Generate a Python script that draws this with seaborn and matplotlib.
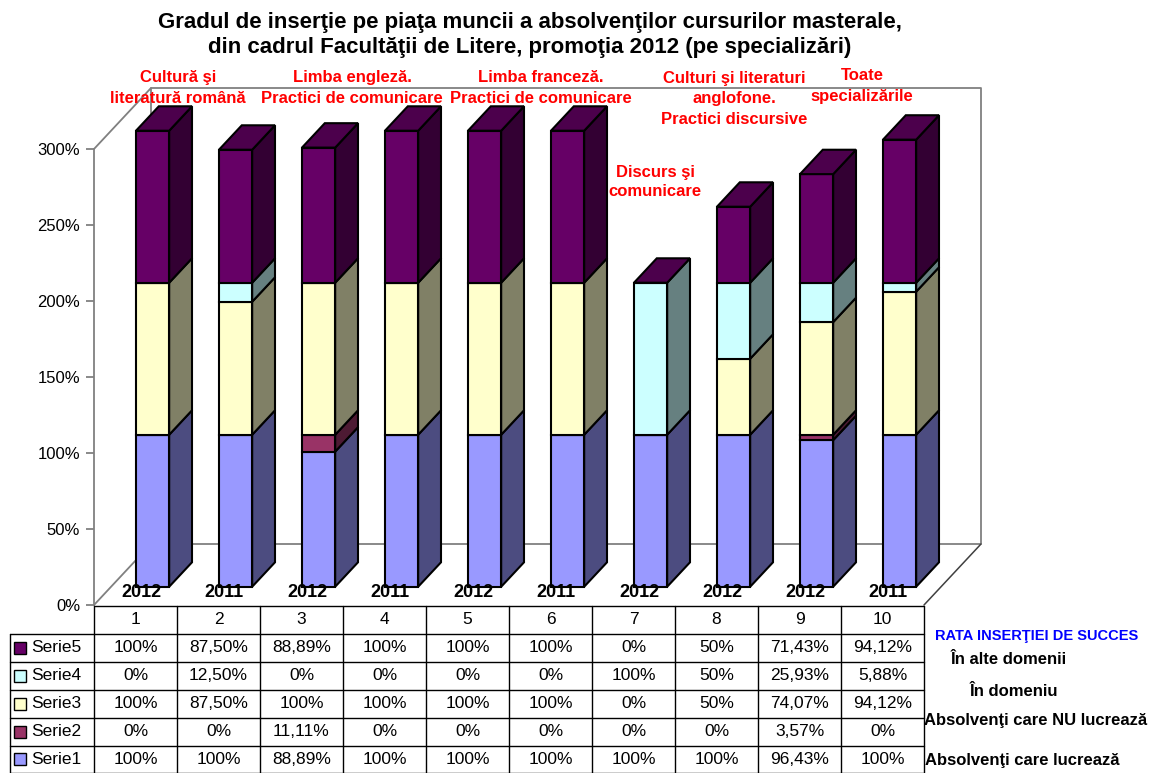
import numpy as np
import matplotlib.pyplot as plt
from matplotlib.patches import Rectangle
import seaborn as sns

# data (percent)
categories = [1, 2, 3, 4, 5, 6, 7, 8, 9, 10]
years = ["2012", "2011", "2012", "2011", "2012", "2011", "2012", "2012", "2012", "2011"]
serie1 = [100, 100, 88.89, 100, 100, 100, 100, 100, 96.43, 100]
serie2 = [0, 0, 11.11, 0, 0, 0, 0, 0, 3.57, 0]
serie3 = [100, 87.5, 100, 100, 100, 100, 0, 50, 74.07, 94.12]
serie4 = [0, 12.5, 0, 0, 0, 0, 100, 50, 25.93, 5.88]
serie5 = [100, 87.5, 88.89, 100, 100, 100, 0, 50, 71.43, 94.12]
series_names = ["Serie1", "Serie2", "Serie3", "Serie4", "Serie5"]
yticks = [0, 50, 100, 150, 200, 250, 300]

title = ("Gradul de inserţie pe piaţa muncii a absolvenţilor cursurilor masterale,\n"
         "din cadrul Facultăţii de Litere, promoţia 2012 (pe specializări)")
programmes = ["Cultură şi\nliteratură română",
              "Limba engleză.\nPractici de comunicare",
              "Limba franceză.\nPractici de comunicare",
              "Culturi şi literaturi\nanglofone.\nPractici discursive",
              "Toate\nspecializările",
              "Discurs şi\ncomunicare"]
legend_title = "RATA INSERŢIEI DE SUCCES"
legend_notes = ["În alte domenii", "În domeniu",
                "Absolvenţi care NU lucrează", "Absolvenţi care lucrează"]

front_colors = ["#9999FF", "#993366", "#FFFFCC", "#CCFFFF", "#660066"]
side_colors = ["#4C4C80", "#4D1A33", "#808066", "#668080", "#330033"]
top_color = "#4C004C"

sns.set_style("white")
plt.rcParams["font.family"] = ["Liberation Sans", "DejaVu Sans"]
plt.rcParams["text.color"] = "black"
plt.rcParams["ytick.labelcolor"] = "black"

W, H = 1150, 773
PX_X, PX_Y = 83, 1.52          # pixels per category / per percent
DX, DY = 57 / PX_X, 61 / PX_Y  # depth of the 3d box in data units
front_dx, front_dy = 0.3 * DX, 0.3 * DY
bar_dx, bar_dy = 0.4 * DX, 0.4 * DY
bw = 0.4

fig = plt.figure(figsize=(W / 100, H / 100), dpi=100)
ax = fig.add_axes([94 / W, (H - 605) / H, (10 + DX) * PX_X / W, (300 + DY) * PX_Y / H])

# walls and floor
wall = dict(color="#808080", lw=1.3, zorder=1, clip_on=False)
x0, x1 = 0.5, 10.5
ax.plot([x0, x0 + DX, x0 + DX], [300, 300 + DY, DY], **wall)
ax.plot([x0 + DX, x1 + DX, x1 + DX, x0 + DX], [300 + DY, 300 + DY, DY, DY], **wall)
ax.plot([x0, x0 + DX], [0, DY], **wall)
ax.plot([x1, x1 + DX], [0, DY], color="#404040", lw=1.1, zorder=1, clip_on=False)

# stacked 3d columns
xf = np.array(categories, dtype=float) + front_dx
bottom = np.full(len(categories), front_dy)
for vals, fc, sc in zip([serie1, serie2, serie3, serie4, serie5], front_colors, side_colors):
    vals = np.array(vals, dtype=float)
    sns.barplot(x=xf, y=vals, bottom=bottom, native_scale=True, orient="x", width=bw,
                color=fc, saturation=1, edgecolor="black", linewidth=1.5,
                errorbar=None, ax=ax, zorder=3)
    for xi, b, v in zip(xf, bottom, vals):
        if v > 0:
            xr = xi + bw / 2
            ax.fill([xr, xr + bar_dx, xr + bar_dx, xr], [b, b + bar_dy, b + v + bar_dy, b + v],
                    facecolor=sc, edgecolor="black", lw=1.5, zorder=3)
    bottom = bottom + vals

for xi, t in zip(xf, bottom):
    xl, xr = xi - bw / 2, xi + bw / 2
    ax.fill([xl, xr, xr + bar_dx, xl + bar_dx], [t, t, t + bar_dy, t + bar_dy],
            facecolor=top_color, edgecolor="black", lw=1.5, zorder=3)

for c, yr in zip(categories, years):
    ax.text(c + 0.07, 8.5, yr, ha="center", va="center", fontsize=13,
            fontweight="bold", color="black", zorder=6)

ax.set_xlim(x0, x1 + DX)
ax.set_ylim(0, 300 + DY)
ax.set_xticks([])
ax.set_xlabel("")
ax.set_ylabel("")
ax.set_yticks(yticks)
ax.set_yticklabels([f"{v}%" for v in yticks])
ax.tick_params(axis="y", length=6, width=1.3, color="#808080", labelcolor="black",
               labelsize=12, pad=4, left=True)
for s in ["top", "right", "bottom"]:
    ax.spines[s].set_visible(False)
ax.spines["left"].set_bounds(0, 300)
ax.spines["left"].set_color("#808080")
ax.spines["left"].set_linewidth(1.3)
ax.patch.set_alpha(0)

# overlay in pixel coordinates for texts and the data table
ov = fig.add_axes([0, 0, 1, 1])
ov.set_xlim(0, W)
ov.set_ylim(H, 0)
ov.axis("off")

ov.text(530, 35, title, ha="center", va="center", fontsize=16, fontweight="bold",
        color="black", linespacing=1.2)

red = dict(ha="center", va="center", color="red", fontsize=12, fontweight="bold")
for txt, (px, py), ls in zip(programmes,
                             [(178, 88), (352, 88), (541, 88), (734, 99), (862, 86), (655, 182)],
                             [1.45, 1.45, 1.45, 1.45, 1.45, 1.3]):
    ov.text(px, py, txt, linespacing=ls, **red)

ov.text(1037, 636, legend_title, ha="center", va="center", color="#0000FF",
        fontsize=10.5, fontweight="bold")
for txt, (px, py) in zip(legend_notes, [(1009, 659), (1014, 692), (1036, 721), (1022, 761)]):
    ov.text(px, py, txt, ha="center", va="center", fontsize=12, fontweight="bold",
            color="black")


def pct(v):
    return f"{v:.0f}%" if float(v).is_integer() else f"{v:.2f}%".replace(".", ",")


col_x = [94 + PX_X * k for k in range(11)]
row_y = [606 + 27.9 * r for r in range(7)]
line = dict(color="black", lw=1)
ov.plot([col_x[0], col_x[-1]], [row_y[0], row_y[0]], **line)
for yy in row_y[1:]:
    ov.plot([10, col_x[-1]], [yy, yy], **line)
ov.plot([10, 10], [row_y[1], H + 5], **line)
for xx in col_x:
    ov.plot([xx, xx], [row_y[0], H + 5], **line)

for k, c in enumerate(categories):
    ov.text(col_x[k] + PX_X / 2, (row_y[0] + row_y[1]) / 2, str(c), ha="center",
            va="center", fontsize=12.5, color="black")

table_rows = list(zip(series_names, [serie1, serie2, serie3, serie4, serie5], front_colors))[::-1]
for r, (name, vals, fc) in enumerate(table_rows):
    yc = (row_y[r + 1] + row_y[r + 2]) / 2
    ov.add_patch(Rectangle((14, yc - 6), 12, 12, facecolor=fc, edgecolor="black", lw=1))
    ov.text(31, yc, name, ha="left", va="center", fontsize=12.5, color="black")
    for k, v in enumerate(vals):
        ov.text(col_x[k] + PX_X / 2, yc, pct(v), ha="center", va="center", fontsize=12.5,
                color="black")

fig.savefig("out.png", dpi=100)
